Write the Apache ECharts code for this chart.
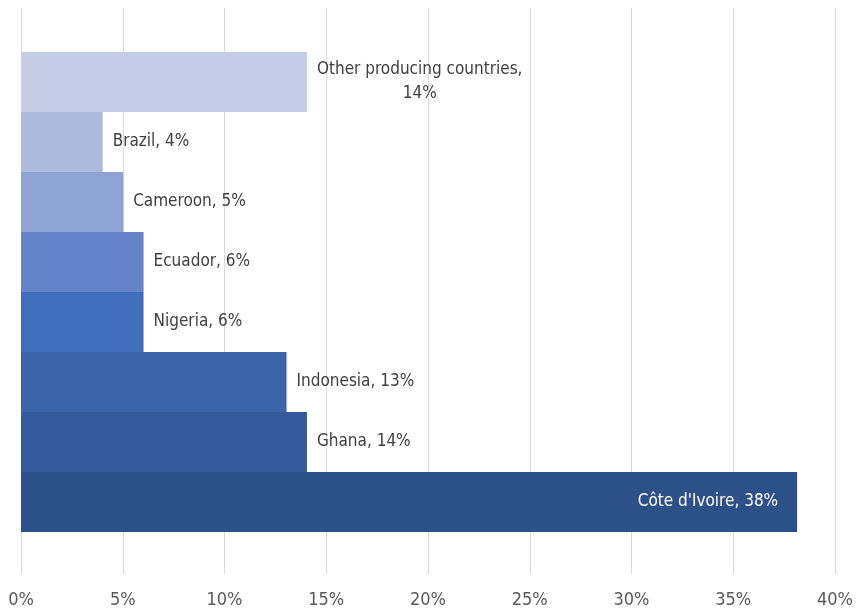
<!DOCTYPE html>
<html>
<head>
<meta charset="utf-8">
<script src="https://cdn.jsdelivr.net/npm/echarts@6/dist/echarts.min.js"></script>
<style>
  html, body { margin: 0; padding: 0; background: #fff; }
  #chart { width: 856px; height: 613px; }
</style>
</head>
<body>
<div id="chart"></div>
<script>
// Share of world cocoa production by country (bottom to top)
const categories = [
  "Côte d'Ivoire", 'Ghana', 'Indonesia', 'Nigeria',
  'Ecuador', 'Cameroon', 'Brazil', 'Other producing countries'
];
const shares = [38, 14, 13, 6, 6, 5, 4, 14];
const barColors = [
  '#2E5088', '#345A9C', '#3B64AB', '#416FBD',
  '#6483C9', '#8FA2D4', '#AEBBDD', '#C5CDE6'
];
const tickValues = [0, 5, 10, 15, 20, 25, 30, 35, 40];

const FONT = "'DejaVu Sans Condensed', Roboto, sans-serif";

const data = shares.map((v, i) => {
  const item = { value: v, itemStyle: { color: barColors[i] } };
  if (categories[i] === "Côte d'Ivoire") {
    item.label = { position: 'insideRight', distance: 19, color: '#ffffff' };
  } else if (categories[i] === 'Other producing countries') {
    item.label = {
      formatter: (p) => '{t|' + p.name + ',}\n{t|' + p.value + '%}',
      rich: { t: { align: 'center', fontSize: 17, fontFamily: FONT, color: '#404040', lineHeight: 24 } }
    };
  }
  return item;
});

const chart = echarts.init(document.getElementById('chart'), null, { renderer: 'canvas' });
chart.setOption({
  animation: false,
  backgroundColor: '#ffffff',
  grid: [
    { left: 21, right: 18, top: 8, bottom: 39 },
    // 480px tall band area: 8 rows of exactly 60px so adjacent bars meet cleanly
    { left: 21, right: 18, top: 52, bottom: 81 }
  ],
  xAxis: [
    {
      gridIndex: 0, type: 'value', min: tickValues[0], max: tickValues[tickValues.length - 1], interval: 5,
      axisLine: { show: false }, axisTick: { show: false },
      splitLine: { show: true, lineStyle: { color: '#D9D9D9', width: 1 } },
      axisLabel: { formatter: '{value}%', color: '#595959', fontSize: 18, fontFamily: FONT, margin: 17 }
    },
    {
      gridIndex: 1, type: 'value', min: 0, max: 40, show: false
    }
  ],
  yAxis: [
    { gridIndex: 0, type: 'category', data: [''], show: false },
    { gridIndex: 1, type: 'category', data: categories, show: false }
  ],
  series: [{
    type: 'bar',
    xAxisIndex: 1,
    yAxisIndex: 1,
    barCategoryGap: 0,
    data: data,
    label: {
      show: true,
      position: 'right',
      distance: 10,
      formatter: '{b}, {c}%',
      color: '#404040',
      fontSize: 17,
      fontFamily: FONT
    }
  }]
});
</script>
</body>
</html>
